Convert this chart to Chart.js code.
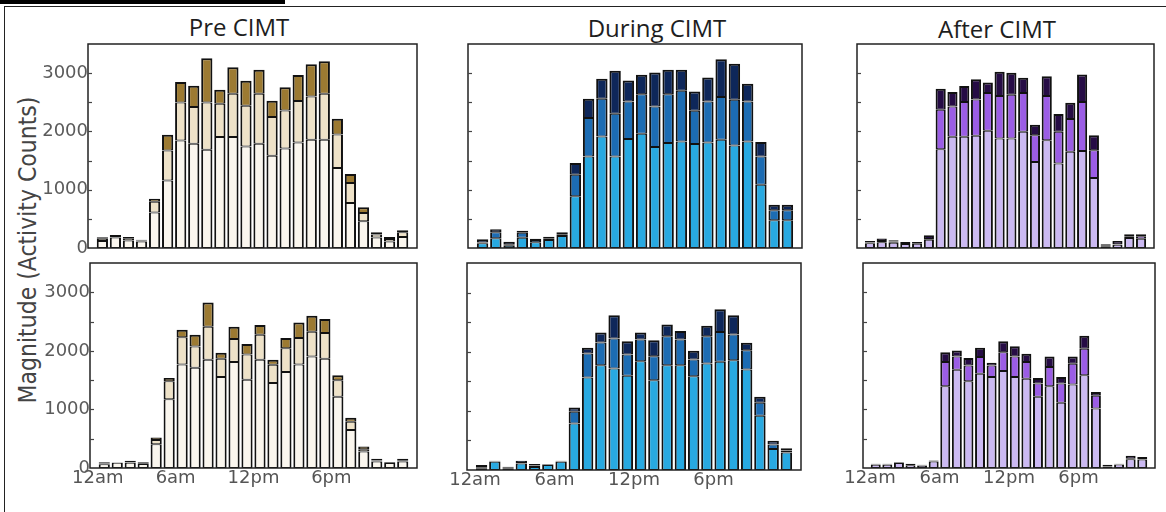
<!DOCTYPE html>
<html>
<head>
<meta charset="utf-8">
<script src="https://cdn.jsdelivr.net/npm/chart.js@4.4.0/dist/chart.umd.min.js"></script>
<style>
  body { margin: 0; background: #fff; }
  #page { position: relative; width: 1166px; height: 512px; overflow: hidden; background: #fff; }
  .topbar { position: absolute; left: 0; top: 0; width: 285px; height: 4px; background: #000; }
  .frame { position: absolute; left: 4px; top: 6px; width: 1190px; height: 530px; border: 1.5px solid #222; }
  canvas { position: absolute; }
  .title { position: absolute; width: 300px; text-align: center; font-family: 'Open Sans'; font-size: 24px; line-height: 24px; color: #1e1e1e; }
  .ytitle { position: absolute; left: -172px; top: 235px; width: 400px; height: 30px; line-height: 30px;
            text-align: center; font-family: 'DejaVu Sans'; font-size: 22px; color: #444;
            transform: rotate(-90deg) scaleY(1.15); }
</style>
</head>
<body>
<div id="page">
  <div class="topbar"></div>
  <div class="frame"></div>
  <div class="title" style="left:89px;top:15px">Pre CIMT</div>
  <div class="title" style="left:507px;top:16px">During CIMT</div>
  <div class="title" style="left:847px;top:17px">After CIMT</div>
  <div class="ytitle">Magnitude (Activity Counts)</div>
</div>
<script>
// hours of the day, one bar each
const HOURS = [0,1,2,3,4,5,6,7,8,9,10,11,12,13,14,15,16,17,18,19,20,21,22,23];
const HOUR_TICKS = [-0.5, 5.5, 11.5, 17.5];
const HOUR_LABELS = ['12am', '6am', '12pm', '6pm'];
const Y_TICKS = [0, 1000, 2000, 3000];
const Y_MARKS = [500, 1000, 1500, 2000, 2500, 3000];

// Pre CIMT, upper row (low / mid / high segments)
const PRE1_LOW  = [120,180,130,110,611,1160,1846,1789,1686,1903,1903,1743,1789,1583,1709,1811,1857,1857,1371,771,457,180,110,189];
const PRE1_MID  = [40,28,39,18,183,514,651,628,811,571,743,697,857,663,651,709,743,789,578,343,143,50,45,80];
const PRE1_HIGH = [25,15,20,15,52,269,349,366,760,240,457,429,411,280,400,446,554,560,268,155,97,40,35,34];
// Pre CIMT, lower row
const PRE2_LOW  = [65,90,90,70,407,1175,1768,1712,1847,1554,1808,1508,1847,1452,1638,1768,1904,1864,1215,650,282,113,85,110];
const PRE2_MID  = [10,5,10,10,73,305,464,361,565,310,395,430,430,311,407,452,424,441,282,141,40,15,5,15];
const PRE2_HIGH = [25,5,25,20,40,57,130,204,413,102,209,181,164,84,175,266,271,237,85,68,45,30,12,33];
// During CIMT, upper row
const DUR1_LOW  = [80,166,40,177,98,137,206,886,1571,1914,1571,1869,1960,1731,1800,1829,1783,1811,1857,1760,1829,1086,474,474];
const DUR1_MID  = [15,103,23,86,39,29,29,371,658,646,732,645,680,698,840,868,571,703,732,783,685,485,172,172];
const DUR1_HIGH = [54,52,45,34,23,28,34,200,331,343,737,360,331,582,417,360,332,412,651,617,303,246,97,97];
// During CIMT, lower row
const DUR2_LOW  = [30,140,30,110,50,85,140,788,1564,1773,1716,1593,1840,1519,1773,1773,1587,1801,1829,1857,1699,917,355,298];
const DUR2_MID  = [15,10,10,10,25,8,10,197,406,382,507,360,366,406,489,433,281,461,506,433,327,220,78,30];
const DUR2_HIGH = [40,8,16,38,26,8,8,73,95,169,394,225,118,270,197,146,147,175,383,327,124,101,62,38];
// After CIMT, upper row
const AFT1_LOW  = [80,100,90,70,75,140,1694,1908,1908,1925,2012,1879,1879,1994,1474,1850,1451,1653,1665,1202,30,55,170,160];
const AFT1_MID  = [15,20,20,15,10,15,676,520,595,624,647,728,751,665,462,757,543,561,838,474,8,10,32,42];
const AFT1_HIGH = [26,42,23,19,19,65,364,248,277,347,179,416,376,260,180,341,307,277,474,260,26,56,35,35];
// After CIMT, lower row
const AFT2_LOW  = [55,55,85,45,40,110,1395,1678,1480,1610,1554,1655,1554,1525,1215,1395,1113,1424,1582,1017,15,60,150,145];
const AFT2_MID  = [8,8,8,8,6,8,413,226,271,283,197,322,350,283,226,328,328,356,452,215,10,5,8,8];
const AFT2_HIGH = [10,10,9,20,10,12,169,102,125,158,46,187,175,141,96,181,113,124,226,67,31,8,51,33];

const PRE_COLORS = ['#faf6ee', '#eee2c8', '#9c7a32'];
const DUR_COLORS = ['#28a9e1', '#1c6cb3', '#0e275a'];
const AFT_COLORS = ['#cbb9f2', '#9b5de5', '#260c45'];

const framePlugin = {
    id: 'frame',
    afterDatasetsDraw(chart) {
        const { ctx, chartArea: a } = chart;
        const y = chart.scales.y;
        ctx.save();
        ctx.strokeStyle = '#222';
        ctx.lineWidth = 1.5;
        ctx.strokeRect(a.left, a.top, a.right - a.left, a.bottom - a.top);
        ctx.strokeStyle = '#444';
        ctx.lineWidth = 1.2;
        Y_MARKS.forEach(v => {
            const py = Math.round(y.getPixelForValue(v)) + 0.5;
            ctx.beginPath();
            ctx.moveTo(a.left, py);
            ctx.lineTo(a.left + 4, py);
            ctx.stroke();
        });
        ctx.restore();
    }
};

function makePanel(p) {
    const L = p.yLabels ? 88 : 30, T = 14, R = 10, B = p.xLabels ? 30 : 14;
    const [x0, y0, x1, y1] = p.area;
    const canvas = document.createElement('canvas');
    canvas.width = L + (x1 - x0) + R;
    canvas.height = T + (y1 - y0) + B;
    canvas.style.left = (x0 - L) + 'px';
    canvas.style.top = (y0 - T) + 'px';
    document.getElementById('page').appendChild(canvas);

    const names = ['low', 'mid', 'high'];
    new Chart(canvas, {
        type: 'bar',
        data: {
            labels: HOURS,
            datasets: p.series.map((d, i) => ({
                label: names[i],
                data: d,
                backgroundColor: p.colors[i],
                borderColor: '#111',
                // outer edges 2px, shared segment edges about 2px in total
                borderWidth: { left: 2, right: 2, bottom: 1, top: i === 2 ? 2 : 1 },
                borderSkipped: false,
                barPercentage: 0.86,
                categoryPercentage: 1
            }))
        },
        options: {
            responsive: false,
            animation: false,
            layout: { padding: { top: T, right: R, left: 0, bottom: 0 } },
            plugins: { legend: { display: false }, tooltip: { enabled: false } },
            scales: {
                x: {
                    type: 'linear', min: -1.1, max: 24.1, stacked: true, offset: false,
                    grid: { display: false, drawTicks: false }, border: { display: false },
                    afterBuildTicks: s => { s.ticks = HOUR_TICKS.map(v => ({ value: v })); },
                    afterFit: s => { s.height = B; },
                    ticks: {
                        display: p.xLabels, autoSkip: false, maxRotation: 0, padding: 0,
                        color: '#555', font: { family: 'DejaVu Sans', size: 18 },
                        callback: (v, i) => HOUR_LABELS[i]
                    }
                },
                y: {
                    min: 0, max: 3500, stacked: true,
                    grid: { display: false, drawTicks: false }, border: { display: false },
                    afterBuildTicks: s => { s.ticks = Y_TICKS.map(v => ({ value: v })); },
                    afterFit: s => { s.width = L; },
                    ticks: {
                        display: p.yLabels, padding: 0,
                        color: '#5b5b5b', font: { family: 'DejaVu Sans', size: 18 },
                        callback: v => String(v)
                    }
                }
            }
        },
        plugins: [framePlugin]
    });
}

[
    { series: [PRE1_LOW, PRE1_MID, PRE1_HIGH], colors: PRE_COLORS, area: [88, 44, 417, 248], yLabels: true, xLabels: false },
    { series: [DUR1_LOW, DUR1_MID, DUR1_HIGH], colors: DUR_COLORS, area: [468, 44, 802, 248], yLabels: false, xLabels: false },
    { series: [AFT1_LOW, AFT1_MID, AFT1_HIGH], colors: AFT_COLORS, area: [857, 44, 1154, 248], yLabels: false, xLabels: false },
    { series: [PRE2_LOW, PRE2_MID, PRE2_HIGH], colors: PRE_COLORS, area: [90, 263, 417, 468], yLabels: true, xLabels: true },
    { series: [DUR2_LOW, DUR2_MID, DUR2_HIGH], colors: DUR_COLORS, area: [467, 263, 801, 470], yLabels: false, xLabels: true },
    { series: [AFT2_LOW, AFT2_MID, AFT2_HIGH], colors: AFT_COLORS, area: [863, 263, 1155, 468], yLabels: false, xLabels: true }
].forEach(makePanel);
</script>
</body>
</html>
